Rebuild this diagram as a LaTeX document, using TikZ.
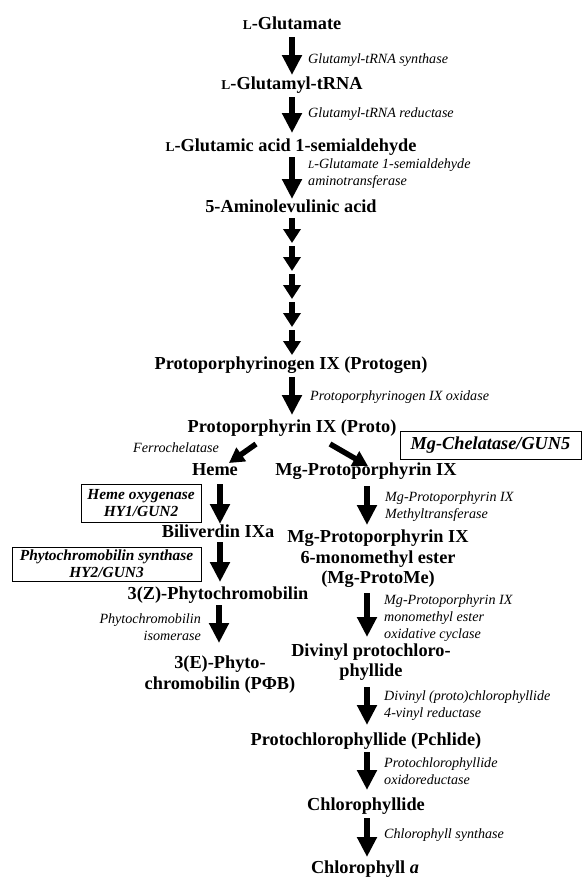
\documentclass[tikz,border=0pt]{standalone}
\usepackage{fontspec}
\setmainfont{Liberation Serif}
\usetikzlibrary{arrows.meta,calc}
\newcommand{\mychem}{\fontsize{18.3}{20.5}\selectfont\bfseries}
\newcommand{\myenz}{\fontsize{14.1}{17}\selectfont\itshape}
\newcommand{\mybox}{\fontsize{15.4}{17}\selectfont\bfseries\itshape}
\newcommand{\scL}[1]{{\fontsize{#1}{#1}\selectfont L}}
\begin{document}
\begin{tikzpicture}[x=1pt,y=-1pt,
  chem/.style={font=\mychem, inner sep=0pt, text height=12.5pt, text depth=3.5pt},
  chemml/.style={font=\mychem, inner sep=0pt, align=center},
  enz/.style={font=\myenz, inner sep=0pt, align=left, anchor=west},
  enzr/.style={font=\myenz, inner sep=0pt, align=right, anchor=east},
  gbox/.style={draw, line width=0.9pt, font=\mybox, align=center, inner sep=2pt},
  bigarrow/.style={line width=6.5pt, -{Triangle[width=19pt,length=20pt]}},
  smallarrow/.style={line width=5.5pt, -{Triangle[width=17pt,length=14pt]}},
  diagarrow/.style={line width=5.5pt, -{Triangle[width=16pt,length=15pt]}}]
\fill[white] (0,0) rectangle (582,878);
\useasboundingbox (0,0) rectangle (582,878);

% main column
\node[chem] (glu) at (292,25) {\scL{13.5}-Glutamate};
\node[chem] (glutrna) at (292,85) {\scL{13.5}-Glutamyl-tRNA};
\node[chem] (gsa) at (291,147) {\scL{13.5}-Glutamic acid 1-semialdehyde};
\node[chem] (ala) at (291,208) {5-Aminolevulinic acid};
\node[chem] (protogen) at (291,365) {Protoporphyrinogen IX (Protogen)};
\node[chem] (proto) at (292,428) {Protoporphyrin IX (Proto)};

\node[enz] (e1) at (308,60) {Glutamyl-tRNA synthase};
\node[enz] (e2) at (308,114) {Glutamyl-tRNA reductase};
\node[enz] (e3) at (308,174) {\scL{11}-Glutamate 1-semialdehyde\\aminotransferase};
\node[enz] (e4) at (310,397) {Protoporphyrinogen IX oxidase};

\draw[bigarrow] ($(glu)+(0,12)$) -- ($(glutrna)+(0,-10)$);
\draw[bigarrow] ($(glutrna)+(0,12)$) -- ($(gsa)+(1,-14)$);
\draw[bigarrow] ($(gsa)+(1,10)$) -- ($(ala)+(1,-9)$);
\coordinate (ka) at ($(ala)+(1,10)$);
\foreach \i in {0,...,4}
  \draw[smallarrow] ($(ka)+(0,28*\i)$) -- ($(ka)+(0,28*\i+25)$);
\draw[bigarrow] ($(protogen)+(1,12)$) -- ($(proto)+(0,-13)$);

% branch
\node[chem] (heme) at (215,471) {Heme};
\node[chem] (mgp) at (366,471) {Mg-Protoporphyrin IX};
\node[enzr] (fc) at (219,448) {Ferrochelatase};
\node[gbox, minimum width=181pt, minimum height=28pt, font=\fontsize{18.3}{18}\selectfont\bfseries\itshape] (mgch) at (490.5,445) {Mg-Chelatase/GUN5};
\draw[diagarrow] ($(proto)+(-36,16)$) -- ($(heme)+(14,-8)$);
\draw[diagarrow] ($(proto)+(38,16)$) -- ($(mgp)+(2,-5)$);

% left (heme) branch
\node[chem] (bili) at (218,533) {Biliverdin IXa};
\node[chem] (pz) at (218,595) {3(Z)-Phytochromobilin};
\node[chemml] (pe) at (220,674.5) {3(E)-Phyto-\\chromobilin (PΦB)};
\node[gbox, minimum width=120pt, minimum height=38pt] (ho) at (141,503) {Heme oxygenase\\HY1/GUN2};
\node[gbox, minimum width=189pt, minimum height=34pt, inner sep=0pt] (pcs) at (106.5,564) {Phytochromobilin synthase\\HY2/GUN3};
\node[enzr] (e5) at (201,627.5) {Phytochromobilin\\isomerase};
\draw[bigarrow] ($(heme)+(5,13)$) -- ($(bili)+(2,-9)$);
\draw[bigarrow] ($(bili)+(2,9)$) -- ($(pz)+(2,-13)$);
\draw[bigarrow] ($(pz)+(1,10)$) -- ($(pe)+(-1,-31.5)$);

% right (chlorophyll) branch
\node[chemml] (ester) at (378,559) {Mg-Protoporphyrin IX\\6-monomethyl ester\\(Mg-ProtoMe)};
\node[chemml] (dv) at (371,662) {Divinyl protochloro-\\phyllide};
\node[chem] (pchl) at (366,741) {Protochlorophyllide (Pchlide)};
\node[chem] (chlide) at (366,806) {Chlorophyllide};
\node[chem] (chla) at (365,869) {Chlorophyll \textit{a}};

\node[enz] (e6) at (385,506.5) {Mg-Protoporphyrin IX\\Methyltransferase};
\node[enz] (e7) at (384,618) {Mg-Protoporphyrin IX\\monomethyl ester\\oxidative cyclase};
\node[enz] (e8) at (384,705.5) {Divinyl (proto)chlorophyllide\\4-vinyl reductase};
\node[enz] (e9) at (384,771.5) {Protochlorophyllide\\oxidoreductase};
\node[enz] (e10) at (384,835) {Chlorophyll synthase};

\draw[bigarrow] ($(mgp)+(1,15)$) -- ($(ester)+(-11,-34)$);
\draw[bigarrow] ($(ester)+(-11,34)$) -- ($(dv)+(-4,-25)$);
\draw[bigarrow] ($(dv)+(-4,25)$) -- ($(pchl)+(1,-16)$);
\draw[bigarrow] ($(pchl)+(1,11)$) -- ($(chlide)+(1,-16)$);
\draw[bigarrow] ($(chlide)+(1,12)$) -- ($(chla)+(2,-12)$);
\end{tikzpicture}
\end{document}
